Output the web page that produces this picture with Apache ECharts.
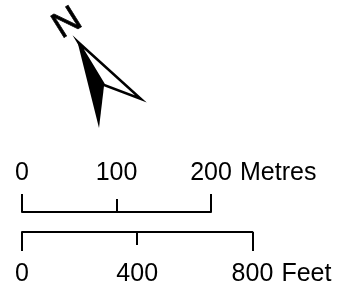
<!DOCTYPE html>
<html><head><meta charset="utf-8">
<script src="https://cdn.jsdelivr.net/npm/echarts@6/dist/echarts.min.js"></script>
<style>html,body{margin:0;padding:0;background:#fff}#c{width:353px;height:286px}</style>
</head><body><div id="c"></div>
<script>
// Scale bar values
const metresTicks = [0, 100, 200];
const metresEndTicks = [0, 200];
const metresMidTicks = [100];
const metresUnit = 'Metres';
const feetTicks = [0, 400, 800];
const feetEndTicks = [0, 800];
const feetMidTicks = [400];
const feetUnit = 'Feet';
const metresPerFoot = 0.3048;
const northLabel = 'N';
// North arrow outline (decoration)
const arrowBlack = [[77, 40], [104, 86], [99, 128]];
const arrowWhite = [[78, 42], [141, 99], [104, 85]];

const chart = echarts.init(document.getElementById('c'), null, {renderer: 'canvas'});
const FONT = "Liberation Sans";
const FS = 25;
const LW = 2;
const mMax = metresTicks[metresTicks.length - 1];
const fMax = feetTicks[feetTicks.length - 1];
const mWidth = 189;
const pxPerMetre = mWidth / mMax;
const fWidth = fMax * metresPerFoot * pxPerMetre;
const left = 22;
const mLineY = 212;
const fLineY = 232;
const mMargin = 26;
const fMargin = 30;

// up = true: ticks and labels drawn above the bar (inside of a bottom axis)
function xa(grid, up, max, interval, ticks, tickLen, showLine, showLabel, name, margin) {
  return {
    type: 'value', gridIndex: grid, position: 'bottom', min: 0, max: max, interval: interval,
    axisLine: {show: showLine, lineStyle: {color: '#000', width: LW}},
    axisTick: {show: true, customValues: ticks, length: tickLen, inside: up, lineStyle: {color: '#000', width: LW}},
    axisLabel: {show: showLabel, inside: up, color: '#000', fontSize: FS, fontFamily: FONT, margin: margin, hideOverlap: false},
    splitLine: {show: false},
    name: name, nameLocation: 'end', nameGap: 29, nameMoveOverlap: false,
    nameTextStyle: {
      color: '#000', fontSize: FS, fontFamily: FONT, align: 'left',
      verticalAlign: up ? 'bottom' : 'top',
      padding: up ? [0, 0, margin, 0] : [margin, 0, 0, 0]
    }
  };
}

function g(bottomY, width) {
  return {left: left, top: bottomY - 10, height: 10, width: width, outerBoundsMode: 'none', containLabel: false};
}

const option = {
  animation: false,
  backgroundColor: '#fff',
  grid: [g(mLineY, mWidth), g(mLineY, mWidth), g(fLineY, fWidth), g(fLineY, fWidth)],
  xAxis: [
    xa(0, true, mMax, metresTicks[1] - metresTicks[0], metresEndTicks, 18, true, true, metresUnit, mMargin),
    xa(1, true, mMax, metresTicks[1] - metresTicks[0], metresMidTicks, 13, false, false, '', mMargin),
    xa(2, false, fMax, feetTicks[1] - feetTicks[0], feetEndTicks, 19, true, true, feetUnit, fMargin),
    xa(3, false, fMax, feetTicks[1] - feetTicks[0], feetMidTicks, 13, false, false, '', fMargin)
  ],
  yAxis: [0, 1, 2, 3].map(i => ({type: 'value', gridIndex: i, show: false, min: 0, max: 1})),
  series: [],
  graphic: [
    {type: 'polygon', shape: {points: arrowBlack}, style: {fill: '#000'}},
    {type: 'polygon', shape: {points: arrowWhite}, style: {fill: '#fff', stroke: '#000', lineWidth: 2.5, lineJoin: 'miter'}},
    {type: 'text', x: 67.5, y: 23.5, rotation: 0.56, style: {text: northLabel, fill: '#000', fontSize: 37, fontFamily: FONT, align: 'center', verticalAlign: 'middle', stroke: '#000', lineWidth: 0.6}}
  ]
};
chart.setOption(option);
</script>
</body></html>
